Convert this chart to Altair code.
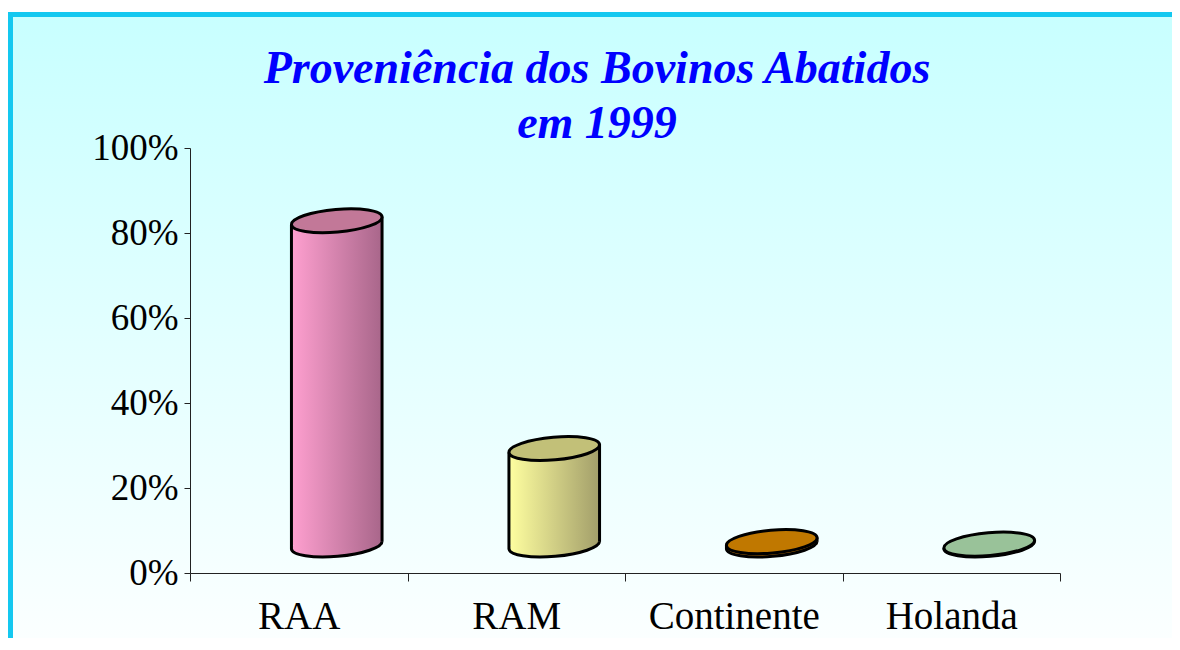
import altair as alt
import pandas as pd

# ---- data ----
categories = ["RAA", "RAM", "Continente", "Holanda"]
values = [76.3, 22.7, 0.8, 0.2]          # percent
y_ticks = [0, 20, 40, 60, 80, 100]
title_lines = ["Proveniência dos Bovinos Abatidos", "em 1999"]

# ---- styles ----
side_light = ["#ffa0d0", "#ffffa0", "#e08a10", "#b0d8b0"]
side_dark = ["#a8668a", "#a29e6a", "#a06000", "#80a880"]
top_colors = ["#c27898", "#c2c078", "#c07800", "#99c299"]

W, H = 870, 425
CYL_W = 91                      # cylinder diameter in px
DX, DY = 38, -28                # 3-D depth offset
TILT = 355
SX, SY = 45.3, 4.0              # side offsets due to tilt

FULL = ("M -1 0 C -1 -0.1381 -0.5523 -0.25 0 -0.25 C 0.5523 -0.25 1 -0.1381 1 0 "
        "C 1 0.1381 0.5523 0.25 0 0.25 C -0.5523 0.25 -1 0.1381 -1 0 Z")
LOWER = "M -1 0 C -1 0.1381 -0.5523 0.25 0 0.25 C 0.5523 0.25 1 0.1381 1 0"

df = pd.DataFrame({"cat": categories, "value": values, "base": [0] * len(categories)})

FONT = "Liberation Serif"

x_enc = alt.X(
    "cat:N", sort=categories,
    scale=alt.Scale(paddingInner=0, paddingOuter=0),
    axis=alt.Axis(title=None, labelAngle=0, labelFont=FONT, labelFontSize=39,
                  labelColor="black", labelPadding=16, tickBand="extent",
                  tickSize=8, tickColor="#222", domainColor="#222",
                  grid=False, zindex=2),
)
y_axis = alt.Axis(title=None, values=y_ticks, labelExpr="datum.value + '%'",
                  labelFont=FONT, labelFontSize=37, labelColor="black",
                  labelPadding=6, tickSize=6, tickColor="#222",
                  domainColor="#222", grid=False, zindex=2)
y_scale = alt.Scale(domain=[0, 100], nice=False, zero=True)

base = alt.Chart(df)

# background with cyan frame
bg = alt.Chart(alt.Data(values=[{"a": 1}])).mark_rect(
    fill=alt.LinearGradient(gradient="linear", x1=0, x2=0, y1=0, y2=1,
                            stops=[alt.GradientStop(color="#c8ffff", offset=0),
                                   alt.GradientStop(color="#ffffff", offset=1)]),
    stroke="#14c8f0", strokeWidth=5,
).encode(x=alt.value(-179.5), x2=alt.value(1010),
         y=alt.value(-133.5), y2=alt.value(540))

layers = [bg]

for i, c in enumerate(categories):
    grad = alt.LinearGradient(
        gradient="linear", x1=0, x2=1, y1=0, y2=0,
        stops=[alt.GradientStop(color=side_light[i], offset=0),
               alt.GradientStop(color=side_dark[i], offset=1)])
    sub = base.transform_filter(alt.datum.cat == c)
    bottom_fill = sub.mark_point(shape=FULL, size=CYL_W ** 2, filled=True,
                                 fill=grad, strokeWidth=0, opacity=1,
                                 angle=TILT, xOffset=DX, yOffset=DY).encode(
        x=x_enc, y=alt.Y("base:Q", scale=y_scale, axis=y_axis))
    body = sub.mark_bar(width=CYL_W, fill=grad, xOffset=DX, yOffset=DY,
                        y2Offset=DY).encode(
        x=x_enc, y=alt.Y("value:Q", scale=y_scale, axis=y_axis), y2="base:Q")
    bottom_arc = sub.mark_point(shape=LOWER, size=CYL_W ** 2, filled=False,
                                stroke="black", strokeWidth=3, opacity=1,
                                angle=TILT, xOffset=DX, yOffset=DY).encode(
        x=x_enc, y=alt.Y("base:Q", scale=y_scale, axis=y_axis))
    left = sub.mark_rule(color="black", strokeWidth=3, xOffset=DX - SX,
                         yOffset=DY + SY, y2Offset=DY + SY).encode(
        x=x_enc, y=alt.Y("value:Q", scale=y_scale, axis=y_axis), y2="base:Q")
    right = sub.mark_rule(color="black", strokeWidth=3, xOffset=DX + SX,
                          yOffset=DY - SY, y2Offset=DY - SY).encode(
        x=x_enc, y=alt.Y("value:Q", scale=y_scale, axis=y_axis), y2="base:Q")
    top = sub.mark_point(shape=FULL, size=CYL_W ** 2, filled=True,
                         fill=top_colors[i], stroke="black", strokeWidth=3,
                         opacity=1, angle=TILT, xOffset=DX, yOffset=DY).encode(
        x=x_enc, y=alt.Y("value:Q", scale=y_scale, axis=y_axis))
    layers += [bottom_fill, body, bottom_arc, left, right, top]

title1 = alt.Chart(alt.Data(values=[{"t": title_lines[0]}])).mark_text(
    font=FONT, fontSize=46, fontStyle="italic", fontWeight="bold",
    color="#0000ff", align="center", baseline="alphabetic").encode(
    text="t:N", x=alt.value(407), y=alt.value(-65))
title2 = alt.Chart(alt.Data(values=[{"t": title_lines[1]}])).mark_text(
    font=FONT, fontSize=46, fontStyle="italic", fontWeight="bold",
    color="#0000ff", align="center", baseline="alphabetic").encode(
    text="t:N", x=alt.value(407), y=alt.value(-10))

chart = alt.layer(*layers, title1, title2).properties(
    width=W, height=H,
    autosize=alt.AutoSizeParams(type="none"),
    padding={"left": 182, "top": 140, "right": 112, "bottom": 65},
    background="white",
).configure_view(stroke=None)

chart.save("out.html", embed_options={"renderer": "svg", "actions": False})
